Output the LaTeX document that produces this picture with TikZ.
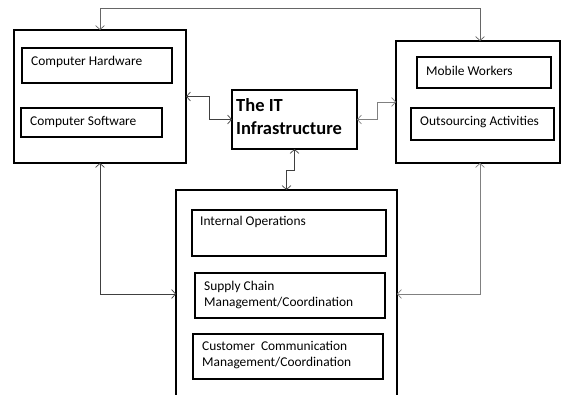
\documentclass[tikz,border=0pt]{standalone}
\usepackage{fontspec}
\setmainfont{Carlito}
\usetikzlibrary{arrows.meta,calc}
\tikzset{
  boxnode/.style={draw=black, line width=2pt, inner sep=0pt, outer sep=0pt},
  lbl/.style={anchor=west, inner sep=0pt, font=\fontsize{13.4}{16}\selectfont, align=left},
  conn/.style={line width=0.7pt, {Straight Barb[length=4pt,width=9pt]}-{Straight Barb[length=4pt,width=9pt]}},
  darkc/.style={draw=black!75},
  lightc/.style={draw=black!50},
}
\begin{document}
\begin{tikzpicture}[x=1pt,y=-1pt]
\useasboundingbox (0,0) rectangle (562,395);
\clip (0,0) rectangle (562,395);
\fill[white] (0,0) rectangle (562,395);
% big boxes
\node[boxnode, minimum width=172pt, minimum height=133pt] (L) at (100,96.5) {};
\node[boxnode, minimum width=164pt, minimum height=122pt] (R) at (478,102) {};
\node[boxnode, minimum width=125pt, minimum height=59pt] (IT) at (294.5,119.5) {};
\node[boxnode, minimum width=221pt, minimum height=208pt] (B) at (286.5,294) {};
% inner boxes
\node[boxnode, minimum width=150pt, minimum height=35pt] (hw) at (97,65.5) {};
\node[boxnode, minimum width=141pt, minimum height=29pt] (sw) at (91.5,122.5) {};
\node[boxnode, minimum width=134pt, minimum height=31pt] (mw) at (484,72.5) {};
\node[boxnode, minimum width=143pt, minimum height=32pt] (oa) at (482.5,124) {};
\node[boxnode, minimum width=194pt, minimum height=46pt] (io) at (289,233) {};
\node[boxnode, minimum width=190pt, minimum height=45pt] (sc) at (290,295.5) {};
\node[boxnode, minimum width=190pt, minimum height=45pt] (cc) at (288,356.5) {};
% labels
\node[lbl] (thw) at (31,62) {Computer Hardware};
\node[lbl] (tsw) at (30,122) {Computer Software};
\node[anchor=west, inner sep=0pt, align=left, font=\fontsize{18.5}{23}\selectfont\bfseries] (tit) at (236,117) {The IT\\Infrastructure};
\node[lbl] (tmw) at (426,71) {Mobile Workers};
\node[lbl] (toa) at (420,122) {Outsourcing Activities};
\node[lbl] (tio) at (200,222) {Internal Operations};
\node[lbl] (tsc) at (204,295) {Supply Chain\\Management/Coordination};
\node[lbl] (tcc) at (202,355) {Customer\ \ Communication\\Management/Coordination};
% connectors
\draw[conn, darkc] (L.east) -- ++(23,0) |- (IT.west);
\draw[conn, lightc] (IT.east) -- ++(20,0) |- (R.west);
\draw[conn, darkc] (IT.south) -- ++(0,21) -| (B.north);
\coordinate (topL) at ($(L.north)+(0,-22)$);
\coordinate (rtop) at (480,41);
\draw[conn, black!60] (L.north) -- (topL) -| (rtop);
\draw[conn, darkc] (L.south) |- (B.west);
\coordinate (rbot) at (480,163);
\draw[conn, lightc] (rbot) |- (B.east);
\end{tikzpicture}
\end{document}
